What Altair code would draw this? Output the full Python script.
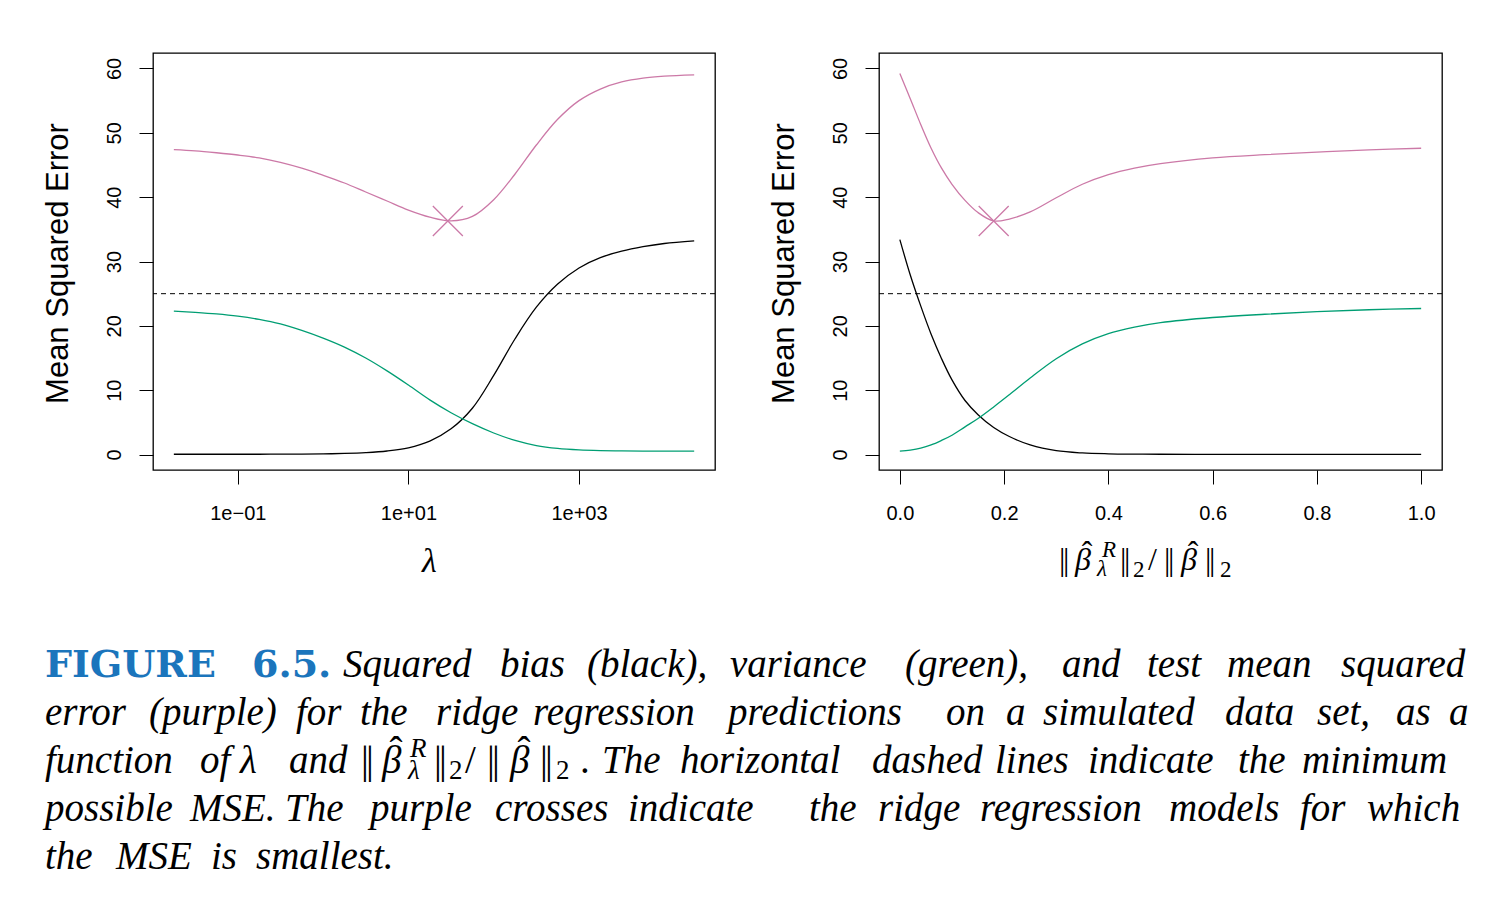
import altair as alt
import pandas as pd

# ---------------- data ----------------
# Left panel: x = lambda (log scale)
lam = [0.0178, 0.0316, 0.0562, 0.1, 0.178, 0.316, 0.562, 1, 1.78, 3.16, 5.62, 10, 17.8,
       31.6, 56.2, 100, 178, 316, 562, 1000, 1778, 3162, 5623, 10000, 22387]
left_bias = [0.05, 0.05, 0.05, 0.05, 0.05, 0.06, 0.08, 0.1, 0.17, 0.3, 0.55, 1.05, 2.1,
             4.0, 7.2, 12.3, 18.0, 22.9, 26.5, 29.0, 30.6, 31.6, 32.3, 32.8, 33.2]
left_var = [22.3, 22.1, 21.85, 21.5, 21.0, 20.3, 19.3, 18.1, 16.7, 15.0, 13.0, 10.8, 8.5,
            6.5, 4.8, 3.35, 2.2, 1.4, 0.95, 0.72, 0.61, 0.56, 0.53, 0.52, 0.52]
left_mse = [47.4, 47.2, 46.9, 46.55, 46.1, 45.4, 44.5, 43.4, 42.2, 40.8, 39.4, 38.0, 36.9,
            36.3, 37.0, 39.6, 43.6, 48.1, 52.1, 55.0, 56.8, 57.9, 58.5, 58.8, 59.0]
left_cross_x = [29]
left_cross_y = [36.3]

# Right panel: x = ||beta_R||2 / ||beta||2
ratio = [0, 0.02, 0.04, 0.06, 0.08, 0.10, 0.125, 0.15, 0.18, 0.21, 0.25, 0.30, 0.35,
         0.40, 0.45, 0.50, 0.60, 0.70, 0.80, 0.90, 1.0]
right_bias = [33.4, 27.9, 23.1, 18.7, 14.9, 11.6, 8.4, 6.2, 4.2, 2.8, 1.5, 0.6, 0.25,
              0.12, 0.07, 0.05, 0.04, 0.04, 0.03, 0.03, 0.03]
right_var = [0.52, 0.7, 1.0, 1.5, 2.2, 3.0, 4.3, 5.6, 7.4, 9.3, 11.9, 14.9, 17.2,
             18.8, 19.8, 20.5, 21.3, 21.8, 22.2, 22.5, 22.7]
right_mse = [59.2, 55.3, 51.3, 47.6, 44.5, 42.0, 39.5, 37.6, 36.3, 36.6, 37.7, 39.9, 42.0,
             43.5, 44.5, 45.2, 46.1, 46.6, 47.0, 47.35, 47.6]
right_cross_x = [0.18]
right_cross_y = [36.3]

min_mse = [25]

y_ticks = [0, 10, 20, 30, 40, 50, 60]
left_tick_vals = [0.1, 10, 1000]
left_tick_labels = ["1e\u221201", "1e+01", "1e+03"]
right_tick_vals = [0.0, 0.2, 0.4, 0.6, 0.8, 1.0]

series_names = ["bias", "variance", "mse"]
series_colors = ["#000000", "#009E73", "#CC79A7"]
PURPLE = "#CC79A7"

# ---------------- caption / label text (page positions) ----------------
CAP = 39
SUB = 27
cap_base = [677, 725, 773, 821, 869]
bold_words = ["FIGURE", "6.5."]
bold_x = [45, 252]
it_words = [
    ("Squared", 343, 0), ("bias", 500, 0), ("(black),", 587, 0), ("variance", 730, 0),
    ("(green),", 905, 0), ("and", 1062, 0), ("test", 1147, 0), ("mean", 1227, 0),
    ("squared", 1341, 0),
    ("error", 45, 1), ("(purple)", 149, 1), ("for", 296, 1), ("the", 360, 1),
    ("ridge", 436, 1), ("regression", 533, 1), ("predictions", 728, 1), ("on", 946, 1),
    ("a", 1006, 1), ("simulated", 1043, 1), ("data", 1225, 1), ("set,", 1317, 1),
    ("as", 1396, 1), ("a", 1449, 1),
    ("function", 45, 2), ("of", 200, 2), ("\u03bb", 240, 2), ("and", 289, 2),
    ("The", 602, 2), ("horizontal", 680, 2), ("dashed", 872, 2), ("lines", 995, 2),
    ("indicate", 1088, 2), ("the", 1238, 2), ("minimum", 1302, 2),
    ("possible", 45, 3), ("MSE.", 190, 3), ("The", 285, 3), ("purple", 370, 3),
    ("crosses", 495, 3), ("indicate", 628, 3), ("the", 809, 3), ("ridge", 878, 3),
    ("regression", 980, 3), ("models", 1169, 3), ("for", 1300, 3), ("which", 1367, 3),
    ("the", 45, 4), ("MSE", 116, 4), ("is", 211, 4), ("smallest.", 256, 4),
]

BAR = "|"
# math pieces: (text, x, baseline, size)
math_up = [
    # caption line 3: ||b^R_l||_2 / ||b||_2 .
    (BAR, 361, 773, CAP), (BAR, 366, 773, CAP),
    (BAR, 434, 773, CAP), (BAR, 439, 773, CAP), ("2", 449, 779, SUB),
    ("/", 465, 773, CAP),
    (BAR, 487, 773, CAP), (BAR, 492, 773, CAP),
    (BAR, 540, 773, CAP), (BAR, 545, 773, CAP), ("2", 556, 779, SUB),
    (".", 580, 773, CAP),
    # right x-axis title
    (BAR, 1059, 570, 32), (BAR, 1063, 570, 32),
    (BAR, 1120, 570, 32), (BAR, 1124, 570, 32), ("2", 1133, 577, 23),
    ("/", 1148, 570, 32),
    (BAR, 1164, 570, 32), (BAR, 1168, 570, 32),
    (BAR, 1205, 570, 32), (BAR, 1209, 570, 32), ("2", 1220, 577, 23),
]
math_it = [
    ("\u03b2", 382, 773, CAP), ("R", 410, 757, SUB), ("\u03bb", 408, 779, SUB),
    ("\u03b2", 510, 773, CAP),
    ("\u03b2", 1075, 570, 32), ("R", 1102, 557, 23), ("\u03bb", 1097, 576, 23),
    ("\u03b2", 1181, 570, 32),
    ("\u03bb", 422, 572, 34),
]
hats = [("\u02c6", 396, 764, CAP), ("\u02c6", 524, 764, CAP),
        ("\u02c6", 1087, 563, 32), ("\u02c6", 1193, 563, 32)]
anchor = [(10, 10)]

# ---------------- build ----------------
def long_df(xs, cols):
    rows = []
    for name, vals in zip(series_names, cols):
        for x, v in zip(xs, vals):
            rows.append({"x": x, "value": v, "series": name})
    return pd.DataFrame(rows)

PW_L, PW_R, PH = 562, 563, 417
LEFT0, TOP0 = 153, 53
Y_DOM = [-2.4, 62.4]

def y_axis():
    return alt.Axis(values=y_ticks, title="Mean Squared Error",
                    titleFont="Liberation Sans", titleFontSize=31, titleFontWeight="normal",
                    titleColor="black", titleAngle=270, titleAlign="center",
                    titleBaseline="alphabetic", titleX=-86, titleY=210,
                    labelFont="Liberation Sans", labelFontSize=20, labelColor="black",
                    labelAngle=270, labelAlign="center", labelBaseline="alphabetic",
                    labelPadding=19, tickSize=14, tickColor="black", tickWidth=1,
                    domain=False, grid=False, labelOverlap=False, labelFlush=False)

def x_axis(values, **kw):
    return alt.Axis(values=values, title=None, labelFont="Liberation Sans",
                    labelFontSize=20, labelColor="black", labelBaseline="alphabetic",
                    labelPadding=35, tickSize=14, tickColor="black", tickWidth=1,
                    domain=False, grid=False, labelOverlap=False, labelFlush=False, **kw)

color_scale = alt.Scale(domain=series_names, range=series_colors)

def panel(xs, cols, cross_x, cross_y, xscale, xaxis):
    df = long_df(xs, cols)
    lines = alt.Chart(df).mark_line(strokeWidth=1.3, interpolate="catmull-rom").encode(
        x=alt.X("x:Q", scale=xscale, axis=xaxis),
        y=alt.Y("value:Q", scale=alt.Scale(domain=Y_DOM, nice=False, zero=False), axis=y_axis()),
        color=alt.Color("series:N", scale=color_scale, legend=None),
        detail="series:N",
    )
    rule = alt.Chart(pd.DataFrame({"v": min_mse})).mark_rule(
        color="black", strokeWidth=1, strokeDash=[5, 4]).encode(y="v:Q")
    cross = alt.Chart(pd.DataFrame({"x": cross_x, "value": cross_y})).mark_point(
        shape="M-1,-1L1,1M-1,1L1,-1", filled=False, size=900, strokeWidth=1.3,
        color=PURPLE, opacity=1).encode(x="x:Q", y="value:Q")
    return alt.layer(lines, rule, cross)

# annotation layers (page coordinates mapped through linear scales)
ann_x = alt.Scale(domain=[LEFT0, LEFT0 + PW_L], nice=False, zero=False)
ann_y = alt.Scale(domain=[TOP0, TOP0 + PH], nice=False, zero=False, reverse=True)

def text_layer(rows, **markkw):
    df = pd.DataFrame(rows, columns=["t", "px", "py", "fs"])
    return alt.Chart(df).mark_text(baseline="alphabetic", **markkw).encode(
        x=alt.X("px:Q", scale=ann_x, axis=None),
        y=alt.Y("py:Q", scale=ann_y, axis=None),
        text="t:N",
        size=alt.Size("fs:Q", scale=None, legend=None),
    )

bold_rows = [(w, x, cap_base[0], 38) for w, x in zip(bold_words, bold_x)]
it_rows = [(w, x, cap_base[ln], CAP) for w, x, ln in it_words]

ann = alt.layer(
    text_layer(bold_rows, align="left", font="DejaVu Serif", fontWeight="bold", color="#1B75BC"),
    text_layer(it_rows, align="left", font="Liberation Serif", fontStyle="italic", color="black"),
    text_layer(math_up, align="left", font="Liberation Serif", color="black"),
    text_layer(math_it, align="left", font="Liberation Serif", fontStyle="italic", color="black"),
    text_layer(hats, align="center", font="Liberation Serif", color="black"),
    alt.Chart(pd.DataFrame(anchor, columns=["px", "py"])).mark_point(
        size=1, opacity=0, strokeWidth=0).encode(
        x=alt.X("px:Q", scale=ann_x, axis=None), y=alt.Y("py:Q", scale=ann_y, axis=None)),
)

left_labels_expr = " : ".join(
    f"abs(datum.value - {v}) < 1e-6 ? '{lab}'" for v, lab in zip(left_tick_vals, left_tick_labels)
) + " : ''"

left = alt.layer(
    panel(lam, [left_bias, left_var, left_mse], left_cross_x, left_cross_y,
          alt.Scale(type="log", domain=[0.01014, 39264], nice=False),
          x_axis(left_tick_vals, labelExpr=left_labels_expr)),
    ann,
).resolve_scale(x="independent", y="independent").properties(width=PW_L, height=PH)

right = panel(ratio, [right_bias, right_var, right_mse], right_cross_x, right_cross_y,
              alt.Scale(domain=[-0.04, 1.04], nice=False, zero=False),
              x_axis(right_tick_vals, format=".1f")).properties(width=PW_R, height=PH)

chart = alt.hconcat(left, right, spacing=164, bounds="flush").properties(
    padding={"left": 0, "top": 0, "right": 5, "bottom": 5}
).configure(background="white").configure_view(stroke="black", strokeWidth=1.3)

chart.save("out.html", embed_options={"renderer": "svg", "actions": False})
